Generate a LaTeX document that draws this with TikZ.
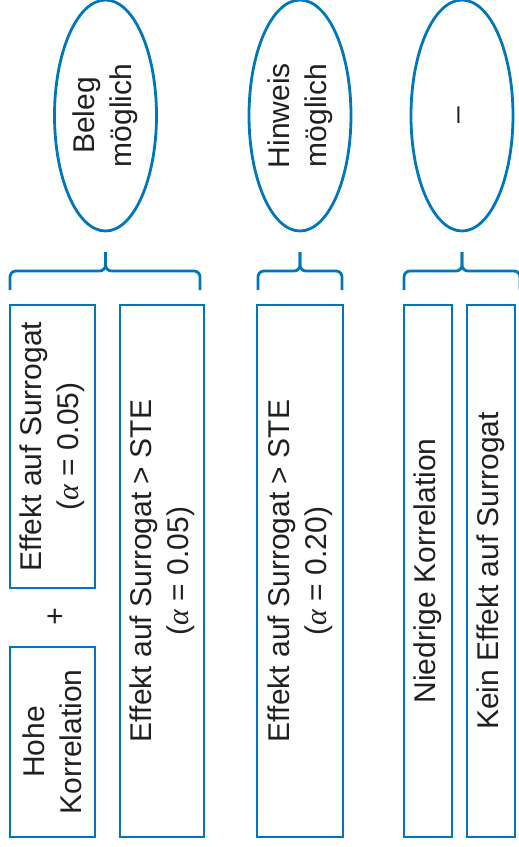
\documentclass[tikz,border=0pt]{standalone}
\usepackage{fontspec}
\setmainfont{Liberation Sans}
\newfontfamily\greekserif{Liberation Serif}
\newcommand{\alphasym}{{\greekserif\itshape α}}
\usetikzlibrary{shapes.geometric}
\definecolor{frameblue}{RGB}{0,119,187}
\definecolor{inkgray}{RGB}{35,31,32}
\tikzset{
  every node/.style={text=inkgray, font=\fontsize{30}{37}\selectfont},
  box/.style={draw=frameblue, line width=2.8pt, rectangle, rotate=90,
              align=center, inner sep=0pt},
  verdict/.style={draw=frameblue, line width=2.8pt, ellipse, rotate=90,
              align=center, inner sep=0pt, minimum width=231pt, minimum height=102pt},
  grouping/.style={draw=frameblue, line width=2.8pt, rounded corners=6pt}
}
\begin{document}
\begin{tikzpicture}[x=1pt, y=-1pt]
  \useasboundingbox (0,0) rectangle (519,847);
  \clip (0,0) rectangle (519,847);

  % verdicts
  \node[verdict] (beleg)   at (105.5,115.5) {Beleg\\möglich};
  \node[verdict] (hinweis) at (300,115.5) {Hinweis\\möglich};
  \node[verdict] (keiner)  at (462,115.5) {–};

  % criteria
  \node[box, minimum width=283pt, minimum height=85pt] (surr)  at (52.5,446.5)
    {Effekt auf Surrogat\\(\alphasym\ = 0.05)};
  \node (plus) at (55,618) {+};
  \node[box, minimum width=190pt, minimum height=85pt] (hohe)  at (52.5,742)
    {Hohe\\Korrelation};
  \node[box, minimum width=532pt, minimum height=84pt] (ste05) at (162,571)
    {Effekt auf Surrogat > STE\\(\alphasym\ = 0.05)};
  \node[box, minimum width=532pt, minimum height=86pt] (ste20) at (300,571)
    {Effekt auf Surrogat > STE\\(\alphasym\ = 0.20)};
  \node[box, minimum width=532pt, minimum height=48pt] (niedrig) at (428,571)
    {Niedrige Korrelation};
  \node[box, minimum width=532pt, minimum height=48pt] (kein) at (491,571)
    {Kein Effekt auf Surrogat};

  % braces grouping the criteria under each verdict
  \coordinate (t1) at (beleg.west |- 0,252);
  \coordinate (t2) at (hinweis.west |- 0,252);
  \coordinate (t3) at (keiner.west |- 0,252);
  \draw[grouping] (10,290) -- (10,271) -- (t1 |- 0,271) -- (t1);
  \draw[grouping] (200,290) -- (200,271) -- (t1 |- 0,271) -- (t1);
  \draw[grouping] (258,290) -- (258,271) -- (t2 |- 0,271) -- (t2);
  \draw[grouping] (342,290) -- (342,271) -- (t2 |- 0,271) -- (t2);
  \draw[grouping] (404,290) -- (404,271) -- (t3 |- 0,271) -- (t3);
  \draw[grouping] (520,290) -- (520,271) -- (t3 |- 0,271) -- (t3);
\end{tikzpicture}
\end{document}
